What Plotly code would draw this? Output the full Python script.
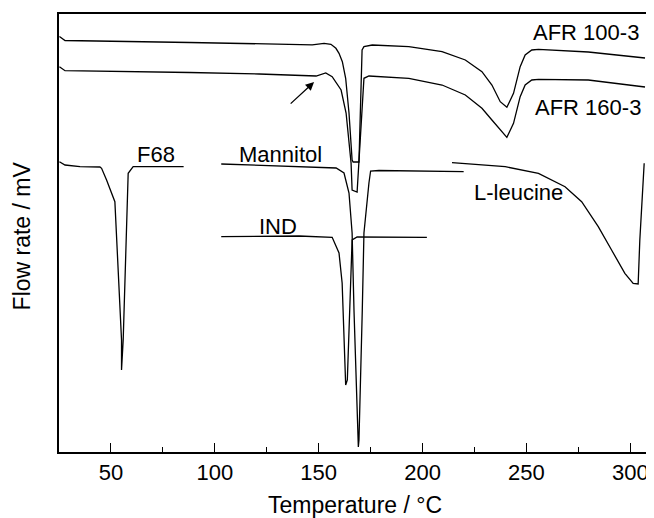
import plotly.graph_objects as go

# ---- data (temperature in °C, heat flow in arbitrary mV units) ----
afr100_T = [25.2, 27.9, 87.9, 121.4, 146.9, 152.6, 155.9, 158.3, 159.8, 161.4, 163.0, 164.6,
            166.1, 166.6, 169.4, 170.9, 171.8, 175.8, 193.4, 209.4, 220.6, 228.6, 233.4,
            237.4, 240.6, 243.8, 247.0, 249.4, 252.6, 255.8, 279.8, 307.1]
afr100_y = [41.55, 41.15, 40.95, 40.8, 40.72, 40.87, 40.77, 40.37, 39.87, 39.03, 37.37, 33.9,
            29.2, 29.0, 29.0, 40.2, 40.53, 40.7, 40.53, 40.03, 39.2, 38.03, 36.7,
            35.03, 34.47, 35.87, 38.53, 39.7, 40.2, 40.27, 40.0, 39.4]

afr160_T = [25.2, 27.9, 87.9, 121.4, 148.8, 153.4, 156.5, 160.8, 163.2, 165.6, 166.1, 168.5,
            171.8, 174.2, 193.4, 209.4, 220.6, 228.6, 233.4, 237.4, 240.6, 243.8, 247.0,
            249.4, 252.6, 255.8, 279.8, 307.1]
afr160_y = [38.53, 38.13, 37.95, 37.8, 37.6, 37.9, 37.53, 36.2, 33.9, 28.9, 26.2, 26.0,
            37.37, 37.6, 37.37, 36.7, 35.7, 34.37, 33.2, 32.2, 31.47, 32.87, 35.53,
            36.7, 37.2, 37.27, 37.2, 36.5]

f68_T = [25.2, 27.9, 35.1, 44.7, 45.5, 47.9, 51.9, 55.1, 55.1, 55.9, 58.3, 60.7, 85.0]
f68_y = [29.03, 28.7, 28.53, 28.5, 28.37, 27.2, 25.03, 11.2, 8.2, 11.2, 27.87, 28.53, 28.53]

mannitol_T = [103.1, 140.6, 158.4, 162.2, 164.6, 166.1, 167.0, 169.1, 169.4, 171.0, 171.8,
              174.2, 175.0, 179.0, 219.8]
mannitol_y = [28.8, 28.53, 28.4, 27.9, 25.9, 21.9, 14.2, 0.5, 1.2, 14.2, 21.9,
              26.9, 28.1, 28.15, 28.03]

ind_T = [103.1, 140.6, 156.5, 159.8, 161.3, 163.0, 163.8, 165.4, 166.1, 168.5, 202.1]
ind_y = [21.53, 21.6, 21.47, 19.9, 16.9, 6.7, 7.2, 17.2, 21.2, 21.5, 21.47]

leucine_T = [214.2, 239.8, 255.8, 268.6, 276.6, 284.6, 291.0, 297.4, 301.4, 303.8, 304.6, 306.7]
leucine_y = [28.93, 28.53, 27.87, 26.53, 25.03, 22.53, 20.2, 17.87, 16.87, 16.8, 21.2, 28.87]

x_ticks = [50, 100, 150, 200, 250, 300]

series = [
    ("AFR 100-3", afr100_T, afr100_y),
    ("AFR 160-3", afr160_T, afr160_y),
    ("F68", f68_T, f68_y),
    ("Mannitol", mannitol_T, mannitol_y),
    ("IND", ind_T, ind_y),
    ("L-leucine", leucine_T, leucine_y),
]

# label positions (data coords)
labels = [
    ("AFR 100-3", 278.5, 42.0),
    ("AFR 160-3", 279.5, 34.5),
    ("F68", 71.5, 29.8),
    ("Mannitol", 131.5, 29.8),
    ("IND", 130.6, 22.6),
    ("L-leucine", 246.2, 26.0),
]

FONT = "Liberation Sans, Arial, sans-serif"

fig = go.Figure()
for name, xs, ys in series:
    fig.add_trace(go.Scatter(x=xs, y=ys, mode="lines", name=name,
                             line=dict(color="black", width=1.3), showlegend=False))

annotations = []
for text, lx, ly in labels:
    annotations.append(dict(x=lx, y=ly, xref="x", yref="y", text=text, showarrow=False,
                            font=dict(family=FONT, size=22, color="black"),
                            xanchor="center", yanchor="middle"))

# arrow pointing at the small pre-melt event of AFR 160-3
annotations.append(dict(x=147.8, y=37.0, ax=135.8, ay=34.7, xref="x", yref="y",
                        axref="x", ayref="y", text="", showarrow=True,
                        arrowhead=2, arrowsize=1.3, arrowwidth=1.3, arrowcolor="black"))

# axis titles
annotations.append(dict(x=0.5, y=-0.122, xref="paper", yref="paper",
                        text="Temperature / °C", showarrow=False,
                        font=dict(family=FONT, size=23, color="black"),
                        xanchor="center", yanchor="middle"))
annotations.append(dict(x=-0.062, y=0.493, xref="paper", yref="paper",
                        text="Flow rate / mV", showarrow=False, textangle=-90,
                        font=dict(family=FONT, size=23, color="black"),
                        xanchor="center", yanchor="middle"))

# page body has an 8px default margin, so the figure is sized/offset to compensate
fig.update_layout(
    width=646, height=510,
    margin=dict(l=51, r=2, t=6, b=66),
    paper_bgcolor="white", plot_bgcolor="white",
    font=dict(family=FONT, color="black"),
    annotations=annotations,
    xaxis=dict(range=[25, 309.5], tickvals=x_ticks, ticks="inside", ticklen=9,
               tickwidth=1.3, tickcolor="black", showline=True, linecolor="black",
               linewidth=1.8, mirror=True, showgrid=False, zeroline=False,
               tickfont=dict(family=FONT, size=22, color="black"),
               minor=dict(ticks="inside", ticklen=5, tickwidth=1.3, tickcolor="black",
                          tick0=25, dtick=50, showgrid=False)),
    yaxis=dict(range=[0, 43.8], showticklabels=False, ticks="", showline=True,
               linecolor="black", linewidth=1.8, mirror=True, showgrid=False,
               zeroline=False),
)

fig.write_html("out.html")
